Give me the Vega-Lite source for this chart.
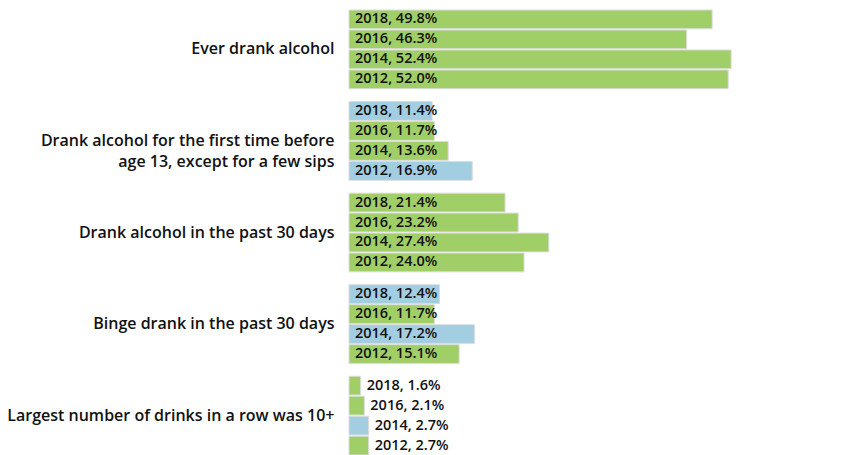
{
  "$schema": "https://vega.github.io/schema/vega-lite/v6.json",
  "width": 501,
  "height": 445,
  "autosize": {"type": "none"},
  "padding": {"left": 349, "top": 10, "right": 0, "bottom": 0},
  "background": "white",
  "config": {"view": {"stroke": null}, "font": "Open Sans"},
  "data": {
    "values": [
      {"measure": "Ever drank alcohol", "year": 2018, "value": 49.8, "group": "g"},
      {"measure": "Ever drank alcohol", "year": 2016, "value": 46.3, "group": "g"},
      {"measure": "Ever drank alcohol", "year": 2014, "value": 52.4, "group": "g"},
      {"measure": "Ever drank alcohol", "year": 2012, "value": 52.0, "group": "g"},
      {"measure": "Drank alcohol for the first time before age 13, except for a few sips", "year": 2018, "value": 11.4, "group": "b"},
      {"measure": "Drank alcohol for the first time before age 13, except for a few sips", "year": 2016, "value": 11.7, "group": "g"},
      {"measure": "Drank alcohol for the first time before age 13, except for a few sips", "year": 2014, "value": 13.6, "group": "g"},
      {"measure": "Drank alcohol for the first time before age 13, except for a few sips", "year": 2012, "value": 16.9, "group": "b"},
      {"measure": "Drank alcohol in the past 30 days", "year": 2018, "value": 21.4, "group": "g"},
      {"measure": "Drank alcohol in the past 30 days", "year": 2016, "value": 23.2, "group": "g"},
      {"measure": "Drank alcohol in the past 30 days", "year": 2014, "value": 27.4, "group": "g"},
      {"measure": "Drank alcohol in the past 30 days", "year": 2012, "value": 24.0, "group": "g"},
      {"measure": "Binge drank in the past 30 days", "year": 2018, "value": 12.4, "group": "b"},
      {"measure": "Binge drank in the past 30 days", "year": 2016, "value": 11.7, "group": "g"},
      {"measure": "Binge drank in the past 30 days", "year": 2014, "value": 17.2, "group": "b"},
      {"measure": "Binge drank in the past 30 days", "year": 2012, "value": 15.1, "group": "g"},
      {"measure": "Largest number of drinks in a row was 10+", "year": 2018, "value": 1.6, "group": "g"},
      {"measure": "Largest number of drinks in a row was 10+", "year": 2016, "value": 2.1, "group": "g"},
      {"measure": "Largest number of drinks in a row was 10+", "year": 2014, "value": 2.7, "group": "b"},
      {"measure": "Largest number of drinks in a row was 10+", "year": 2012, "value": 2.7, "group": "g"}
    ]
  },
  "transform": [
    {"calculate": "datum.year + ', ' + format(datum.value, '.1f') + '%'", "as": "label"},
    {"calculate": "datum.value < 5 ? datum.value : 0", "as": "lx"}
  ],
  "encoding": {
    "y": {
      "field": "measure", "type": "nominal", "sort": null, "title": null,
      "scale": {"paddingInner": 0.14, "paddingOuter": 0},
      "axis": {
        "ticks": false, "domain": false, "labelPadding": 15,
        "labelFontSize": 16, "labelFontWeight": 600, "labelColor": "#111111",
        "labelLimit": 400, "labelLineHeight": 21,
        "labelExpr": "datum.value == 'Drank alcohol for the first time before age 13, except for a few sips' ? ['Drank alcohol for the first time before', 'age 13, except for a few sips'] : datum.value"
      }
    },
    "yOffset": {"field": "year", "type": "ordinal", "sort": "descending", "scale": {"paddingInner": 0.06, "paddingOuter": 0}}
  },
  "layer": [
    {
      "mark": {"type": "bar", "stroke": "#dcdcdc", "strokeWidth": 1},
      "encoding": {
        "x": {"field": "value", "type": "quantitative", "scale": {"domain": [0, 68.7], "nice": false}, "axis": null},
        "color": {"field": "group", "type": "nominal", "scale": {"domain": ["g", "b"], "range": ["#a0ce67", "#a3cde1"]}, "legend": null}
      }
    },
    {
      "mark": {"type": "text", "align": "left", "baseline": "middle", "dx": 6, "fontSize": 14.5, "fontWeight": 600, "color": "#111111"},
      "encoding": {
        "x": {"field": "lx", "type": "quantitative"},
        "text": {"field": "label", "type": "nominal"}
      }
    }
  ]
}
